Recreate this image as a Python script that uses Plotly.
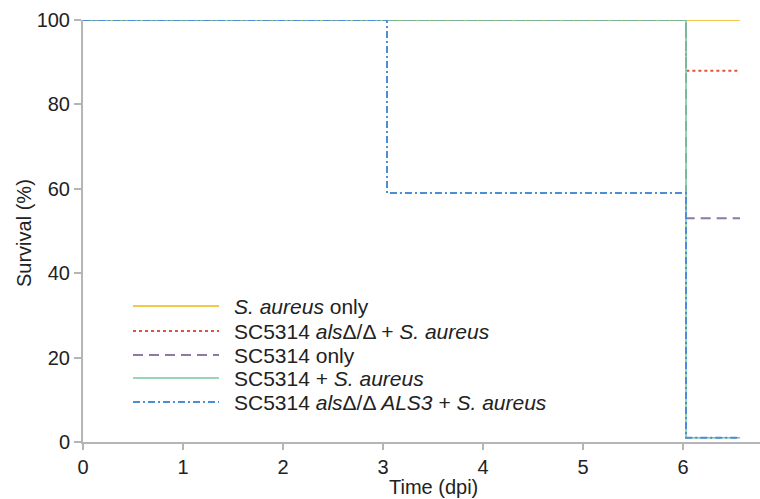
import plotly.graph_objects as go

# ---- data ----
series_names = [
    "<i>S. aureus</i> only",
    "SC5314 <i>als</i>Δ/Δ + <i>S. aureus</i>",
    "SC5314 only",
    "SC5314 + <i>S. aureus</i>",
    "SC5314 <i>als</i>Δ/Δ <i>ALS3</i> + <i>S. aureus</i>",
]
time_sa_only = [0, 6.57]
surv_sa_only = [100, 100]
time_als_sa = [0, 6.03, 6.57]
surv_als_sa = [100, 88, 88]
time_sc_only = [0, 6.03, 6.57]
surv_sc_only = [100, 53, 53]
time_sc_sa = [0, 6.03, 6.57]
surv_sc_sa = [100, 1, 1]
time_als3_sa = [0, 3.04, 6.03, 6.57]
surv_als3_sa = [100, 59, 1, 1]
x_ticks = [0, 1, 2, 3, 4, 5, 6]
y_ticks = [0, 20, 40, 60, 80, 100]

colors = ["#f4c84a", "#e6513f", "#8c7aa6", "#78c79c", "#4b8dd6"]
dashes = ["solid", "dot", "10px,6px", "solid", "7px,3px,2px,3px"]
widths = [2, 2, 2, 1.6, 2]

xs = [time_sa_only, time_als_sa, time_sc_only, time_sc_sa, time_als3_sa]
ys = [surv_sa_only, surv_als_sa, surv_sc_only, surv_sc_sa, surv_als3_sa]

FONT = "Liberation Sans, Arial, sans-serif"
TXT = "#222222"
AX = "#b5b5b5"

W, H = 760, 499
ML, MR, MT, MB = 83, 0, 20, 57
PW, PH = W - ML - MR, H - MT - MB

fig = go.Figure()
for i in range(5):
    fig.add_trace(go.Scatter(
        x=xs[i], y=ys[i], mode="lines", line_shape="hv",
        line=dict(color=colors[i], width=widths[i], dash=dashes[i]),
        name=series_names[i], showlegend=False,
    ))

def px_x(p):
    return (p - ML) / PW

def px_y(p):
    return (H - MB - p) / PH

# manual legend (long sample lines like the reference)
legend_rows = [306, 331, 355, 378, 402]
for i, ry in enumerate(legend_rows):
    fig.add_shape(type="line", xref="paper", yref="paper",
                  x0=px_x(133), x1=px_x(219), y0=px_y(ry), y1=px_y(ry),
                  line=dict(color=colors[i], width=widths[i], dash=dashes[i]))
    fig.add_annotation(xref="paper", yref="paper", x=px_x(232), y=px_y(ry),
                       text=series_names[i], showarrow=False,
                       xanchor="left", yanchor="middle",
                       font=dict(family=FONT, size=21, color=TXT))

# axis titles
fig.add_annotation(xref="paper", yref="paper", x=px_x(433), y=px_y(487),
                   text="Time (dpi)", showarrow=False, xanchor="center",
                   yanchor="middle", font=dict(family=FONT, size=20, color=TXT))
fig.add_annotation(xref="paper", yref="paper", x=px_x(24), y=px_y(233),
                   text="Survival (%)", showarrow=False, textangle=-90,
                   xanchor="center", yanchor="middle",
                   font=dict(family=FONT, size=20, color=TXT))

fig.update_layout(
    width=W, height=H,
    margin=dict(l=ML, r=MR, t=MT, b=MB, autoexpand=False),
    paper_bgcolor="white", plot_bgcolor="white",
    font=dict(family=FONT, size=20, color=TXT),
    showlegend=False,
)
fig.update_xaxes(range=[0, PW / 100.0], tickvals=x_ticks, showgrid=False,
                 zeroline=False, showline=True, linecolor=AX, linewidth=2,
                 ticks="outside", ticklen=6, tickcolor=AX, tickwidth=1.5,
                 tickfont=dict(family=FONT, size=20, color=TXT))
fig.update_yaxes(range=[0, 100], tickvals=y_ticks, showgrid=False,
                 zeroline=False, showline=True, linecolor=AX, linewidth=2,
                 ticks="outside", ticklen=7, tickcolor=AX, tickwidth=1.5,
                 tickfont=dict(family=FONT, size=20, color=TXT))

fig.write_html("out.html")
